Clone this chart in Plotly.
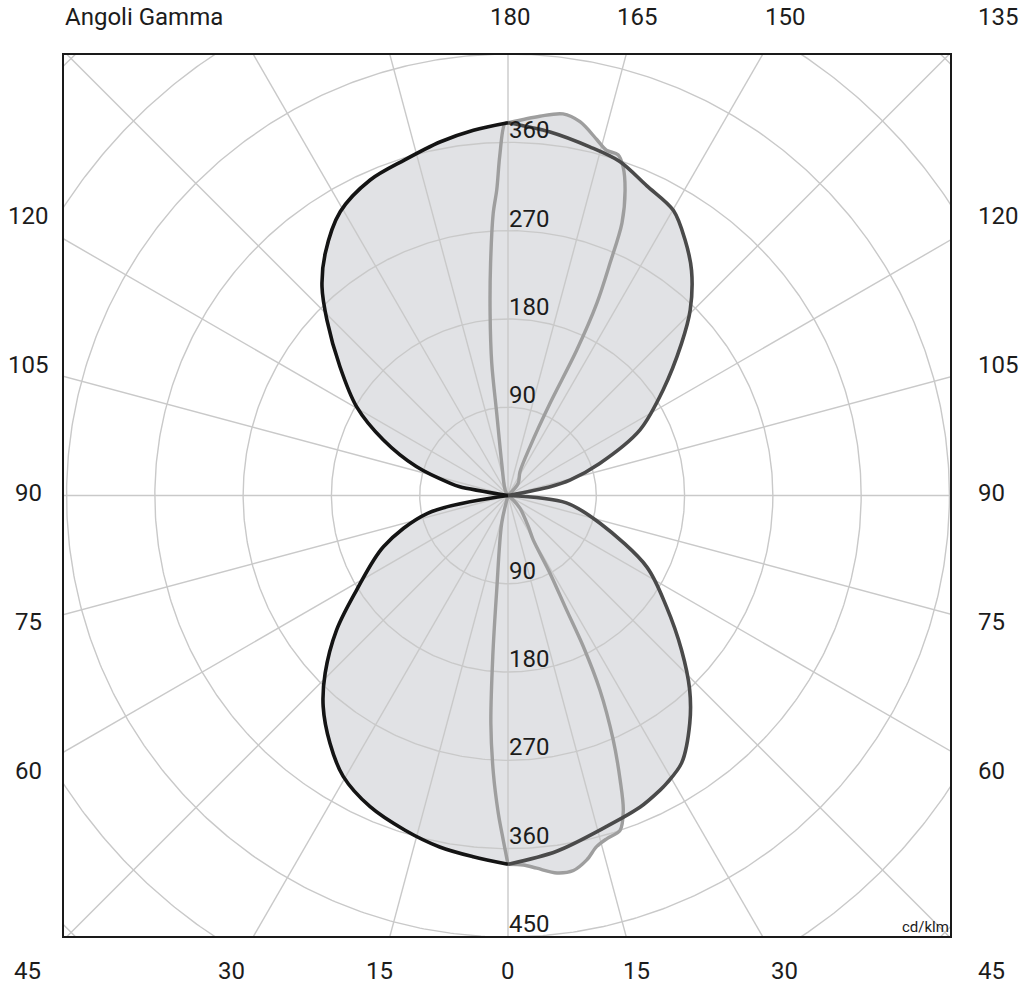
import numpy as np
import plotly.graph_objects as go

# ---------------- data (gamma in degrees: 0 = down, 180 = up; values in cd/klm) ----
# C0 plane (right half of the wide curve, dark grey)
c0_gamma = [0, 7.8, 16.6, 23.0, 27.3, 28.9, 33.0, 38.6, 43.1, 48.3, 55.0, 62.8, 73.2, 82.8, 90,
            101.8, 104.0, 109.3, 116.4, 124.2, 131.2, 135.5, 140.8, 145.3, 149.9, 155.9,
            161.5, 166.8, 173.4, 180]
c0_cd = [376, 366, 352, 345, 338, 335, 325, 297, 271, 237, 197, 159, 98, 60, 0,
         44, 65, 99, 150, 191, 235, 265, 296, 317, 336, 346,
         359, 365, 373, 380]

# C180 plane (left half of the wide curve, black)
c180_gamma = [0, 5.5, 11.0, 17.1, 23.9, 30.4, 35.7, 41.2, 45.8, 51.9, 58.0, 67.7, 77.5, 90,
              100.4, 101.9, 107.5, 114.0, 120.4, 127.5, 134.1, 138.3, 142.9, 149.4, 156.4,
              162.9, 169.1, 174.6, 180]
c180_cd = [376, 370, 365, 357, 347, 332, 311, 286, 260, 222, 182, 137, 84, 0,
           50, 60, 98, 139, 179, 216, 257, 285, 309, 336, 351,
           358, 367, 374, 380]

# C90 plane (right half of the narrow curve, light grey)
c90_gamma = [0, 2.4, 4.4, 7.4, 9.9, 12.2, 14.2, 16.1, 18.5, 20.1, 21.5, 23.3, 25.3, 26.5, 27.1,
             28.4, 29.6, 33.1, 43.2, 49.7, 90,
             139.8, 153.2, 155.7, 155.5, 154.7, 155.2, 156.3, 157.3, 159.0, 160.7, 162.1,
             164.1, 166.0, 169.1, 171.8, 175.2, 180]
c90_cd = [376, 377, 381, 388, 388, 380, 369, 364, 360, 342, 312, 271, 219, 172, 131,
          90, 52, 38, 18, 7, 0,
          16, 27, 55, 103, 164, 216, 259, 301, 333, 355, 365,
          366, 374, 388, 393, 388, 380]

# C270 plane (left half of the narrow curve, light grey)
c270_gamma = [0, 0.8, 1.75, 3.0, 4.3, 5.4, 6.8, 12.8, 90,
              151.4, 168.9, 172.2, 173.0, 174.4, 175.7, 177.0, 177.9, 178.6, 179.5, 180]
c270_cd = [376, 351, 324, 284, 233, 165, 97, 29, 0,
           6, 33, 85, 136, 187, 237, 288, 312, 346, 379, 380]

ring_values = [90, 180, 270, 360, 450, 540, 630]
ring_labels_upper = [90, 180, 270, 360]
ring_labels_lower = [90, 180, 270, 360, 450]
ray_angles = list(range(0, 360, 15))

bottom_labels = [0, 15, 30]          # on both sides of the nadir
top_labels = [180, 165, 150]         # right half only
side_labels = [60, 75, 90, 105, 120]
corner_labels = [("45", "bl"), ("45", "br"), ("135", "tr")]
title_text = "Angoli Gamma"
unit_text = "cd/klm"

# ---------------- styling / geometry ---------------------------------------------
PX = 0.981                     # pixels per cd/klm
CX, CY = 508, 495.5            # pole position in pixels
FILL = "#e1e2e5"
GRID = "#c9c9c9"
BLACK = "#141414"
DARK = "#4a4a4a"
LIGHT = "#9e9e9e"
TXT = "#1c1c1c"
FONT = "Roboto"
L, R, T, B = 64, 74, 55, 48
W, H = 1024, 984
pw, ph = W - L - R, H - T - B


def to_xy(gamma, cd, side):
    g = np.radians(np.asarray(gamma, dtype=float))
    r = np.asarray(cd, dtype=float)
    return side * r * np.sin(g), -r * np.cos(g)


def halves(gamma, cd, side):
    gamma = np.asarray(gamma, dtype=float)
    x, y = to_xy(gamma, cd, side)
    i = int(np.where(gamma == 90)[0][0])
    return (x[:i + 1], y[:i + 1]), (x[i:], y[i:])   # lower (0..90), upper (90..180)


(l0, u0) = halves(c0_gamma, c0_cd, 1)
(l180, u180) = halves(c180_gamma, c180_cd, -1)
(l90, u90) = halves(c90_gamma, c90_cd, 1)
(l270, u270) = halves(c270_gamma, c270_cd, -1)

fig = go.Figure()
SPL = dict(shape="spline", smoothing=0.9)


def lobe(a, b):
    # path: pole -> along a (outwards) -> back along b to the pole
    return np.concatenate([a[0], b[0][::-1]]), np.concatenate([a[1], b[1][::-1]])


def rev(h):
    return (h[0][::-1], h[1][::-1])


fill_paths = [lobe(u0, u180), lobe(rev(l0), rev(l180)),
              lobe(u90, u270), lobe(rev(l90), rev(l270))]
for fx, fy in fill_paths:
    fig.add_trace(go.Scatter(x=fx, y=fy, mode="lines", line=dict(width=0, **SPL),
                             fill="toself", fillcolor=FILL, hoverinfo="skip", showlegend=False))

# grid circles
t = np.linspace(0, 2 * np.pi, 721)
gx, gy = [], []
for rv in ring_values:
    gx += list(rv * np.cos(t)) + [None]
    gy += list(rv * np.sin(t)) + [None]
fig.add_trace(go.Scatter(x=gx, y=gy, mode="lines", line=dict(color=GRID, width=1.4),
                         hoverinfo="skip", showlegend=False))
# grid rays
rx, ry = [], []
for a in ray_angles:
    ar = np.radians(a)
    rx += [0, 800 * np.sin(ar), None]
    ry += [0, -800 * np.cos(ar), None]
fig.add_trace(go.Scatter(x=rx, y=ry, mode="lines", line=dict(color=GRID, width=1.4),
                         hoverinfo="skip", showlegend=False))

# curves
for h in (l90, u90, l270, u270):
    fig.add_trace(go.Scatter(x=h[0], y=h[1], mode="lines", line=dict(color=LIGHT, width=3.4, **SPL),
                             hoverinfo="skip", showlegend=False))
for h in (l180, u180):
    fig.add_trace(go.Scatter(x=h[0], y=h[1], mode="lines", line=dict(color=BLACK, width=3.6, **SPL),
                             hoverinfo="skip", showlegend=False))
for h in (l0, u0):
    fig.add_trace(go.Scatter(x=h[0], y=h[1], mode="lines", line=dict(color=DARK, width=3.6, **SPL),
                             hoverinfo="skip", showlegend=False))


def paper(px, py):
    return (px - L) / pw, 1 - (py - T) / ph


ann = []
lab_font = dict(family=FONT, size=24, color=TXT)


def add_label(text, px, py, xanchor="center"):
    xp, yp = paper(px, py)
    ann.append(dict(x=xp, y=yp, xref="paper", yref="paper", text=text, showarrow=False,
                    xanchor=xanchor, yanchor="middle", font=lab_font))


for v in ring_labels_upper:
    add_label(str(v), CX - 1, CY - v * PX - 12, "left")
for v in ring_labels_lower:
    add_label(str(v), CX - 1, CY + v * PX - 13, "left")

# outer angle labels
DB, DT, DS, XR, XL = 478.5, 475.5, 480, 468, 480
for g in bottom_labels:
    for s in ([1, -1] if g else [1]):
        add_label(str(g), CX + s * DB * np.tan(np.radians(g)), CY + DB - 3)
for g in top_labels:
    add_label(str(g), CX + DT * np.tan(np.radians(180 - g)) + 2, CY - DT - 3)
for g in side_labels:
    yy = CY - DS * np.tan(np.radians(g - 90)) - 2
    add_label(str(g), CX + XR, yy, "left")
    add_label(str(g), CX - XL, yy, "center")
for txt, pos in corner_labels:
    yy = CY - DT - 3 if pos[0] == "t" else CY + DB - 3
    if pos[1] == "r":
        add_label(txt, CX + XR, yy, "left")
    else:
        add_label(txt, CX - XL - 1, yy, "center")

ann.append(dict(x=0, y=1, xref="paper", yref="paper", text=title_text, showarrow=False,
                xanchor="left", yanchor="middle", xshift=-1, yshift=38, font=lab_font))
ann.append(dict(x=1, y=0, xref="paper", yref="paper", text=unit_text, showarrow=False,
                xanchor="right", yanchor="bottom", xshift=1, yshift=-2,
                font=dict(family=FONT, size=15, color=TXT)))

xr = [-(CX - L) / PX, (W - R - CX) / PX]
yr = [-(ph / 2) / PX, (ph / 2) / PX]

fig.update_layout(
    width=W, height=H, margin=dict(l=L, r=R, t=T, b=B),
    paper_bgcolor="white", plot_bgcolor="white",
    annotations=ann, showlegend=False,
    xaxis=dict(range=xr, showgrid=False, zeroline=False, showticklabels=False, ticks="",
               showline=True, mirror=True, linecolor="#1a1a1a", linewidth=2, fixedrange=True),
    yaxis=dict(range=yr, showgrid=False, zeroline=False, showticklabels=False, ticks="",
               showline=True, mirror=True, linecolor="#1a1a1a", linewidth=2, fixedrange=True),
)

fig.write_html("out.html")
